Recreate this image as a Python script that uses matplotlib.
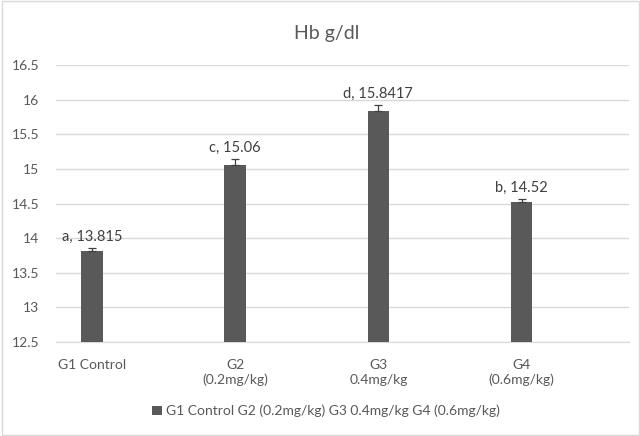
import matplotlib
matplotlib.use("Agg")
import matplotlib.pyplot as plt
from matplotlib.patches import Rectangle

plt.rcParams['font.family'] = ['Lato', 'DejaVu Sans']

groups = ["G1 Control", "G2\n(0.2mg/kg)", "G3\n0.4mg/kg", "G4\n(0.6mg/kg)"]
hb = [13.815, 15.06, 15.8417, 14.52]
err = [0.04, 0.08, 0.08, 0.05]
letters = ["a", "c", "d", "b"]
value_text = ["13.815", "15.06", "15.8417", "14.52"]
series_name = "G1 Control G2 (0.2mg/kg) G3 0.4mg/kg G4 (0.6mg/kg)"

grey = "#595959"
txt = "#595959"

fig = plt.figure(figsize=(6.4, 4.36), dpi=100)
ax = fig.add_axes([56 / 640, 1 - 342 / 436, (629 - 56) / 640, (342 - 65) / 436])

x = range(len(groups))
ax.bar(x, [v - 12.5 for v in hb], bottom=12.5, width=0.15, color=grey,
       label=series_name, zorder=3)
# plus-only error bars
ax.errorbar(x, hb, yerr=[[0] * len(err), err], fmt="none", ecolor="#404040",
            elinewidth=0.9, capsize=3, capthick=0.9, zorder=4)

for i, v in enumerate(hb):
    ax.text(i, v + err[i] + 0.06, f"{letters[i]}, {value_text[i]}",
            ha="center", va="bottom", fontsize=10.5, color="#404040")

ax.set_xlim(-0.25, 3.75)
ax.set_ylim(12.5, 16.5)
ax.set_yticks([12.5 + 0.5 * k for k in range(9)])
ax.set_yticklabels(["12.5", "13", "13.5", "14", "14.5", "15", "15.5", "16", "16.5"])
ax.set_xticks(list(x))
ax.set_xticklabels(groups, linespacing=1.3)
ax.yaxis.grid(True, color="#d9d9d9", linewidth=1, zorder=0)
for s in ["top", "right", "left"]:
    ax.spines[s].set_visible(False)
ax.spines["bottom"].set_color("#d9d9d9")
ax.tick_params(axis="both", length=0, colors=txt, labelsize=10)
ax.tick_params(axis="y", pad=12)
ax.tick_params(axis="x", pad=12)

fig.text(327 / 640, 1 - 33 / 436, "Hb g/dl", ha="center", va="center",
         fontsize=14, color=txt)

leg = fig.legend(loc="center", bbox_to_anchor=(326 / 640, 1 - 411 / 436),
                 frameon=False, fontsize=10, handlelength=0.7, handleheight=0.7,
                 handletextpad=0.3)
for t in leg.get_texts():
    t.set_color(txt)

fig.patches.append(Rectangle((1.5 / 640, 1.5 / 436), 637 / 640, 433 / 436,
                             transform=fig.transFigure, fill=False,
                             edgecolor="#d9d9d9", linewidth=1))

fig.savefig("out.png", dpi=100)
